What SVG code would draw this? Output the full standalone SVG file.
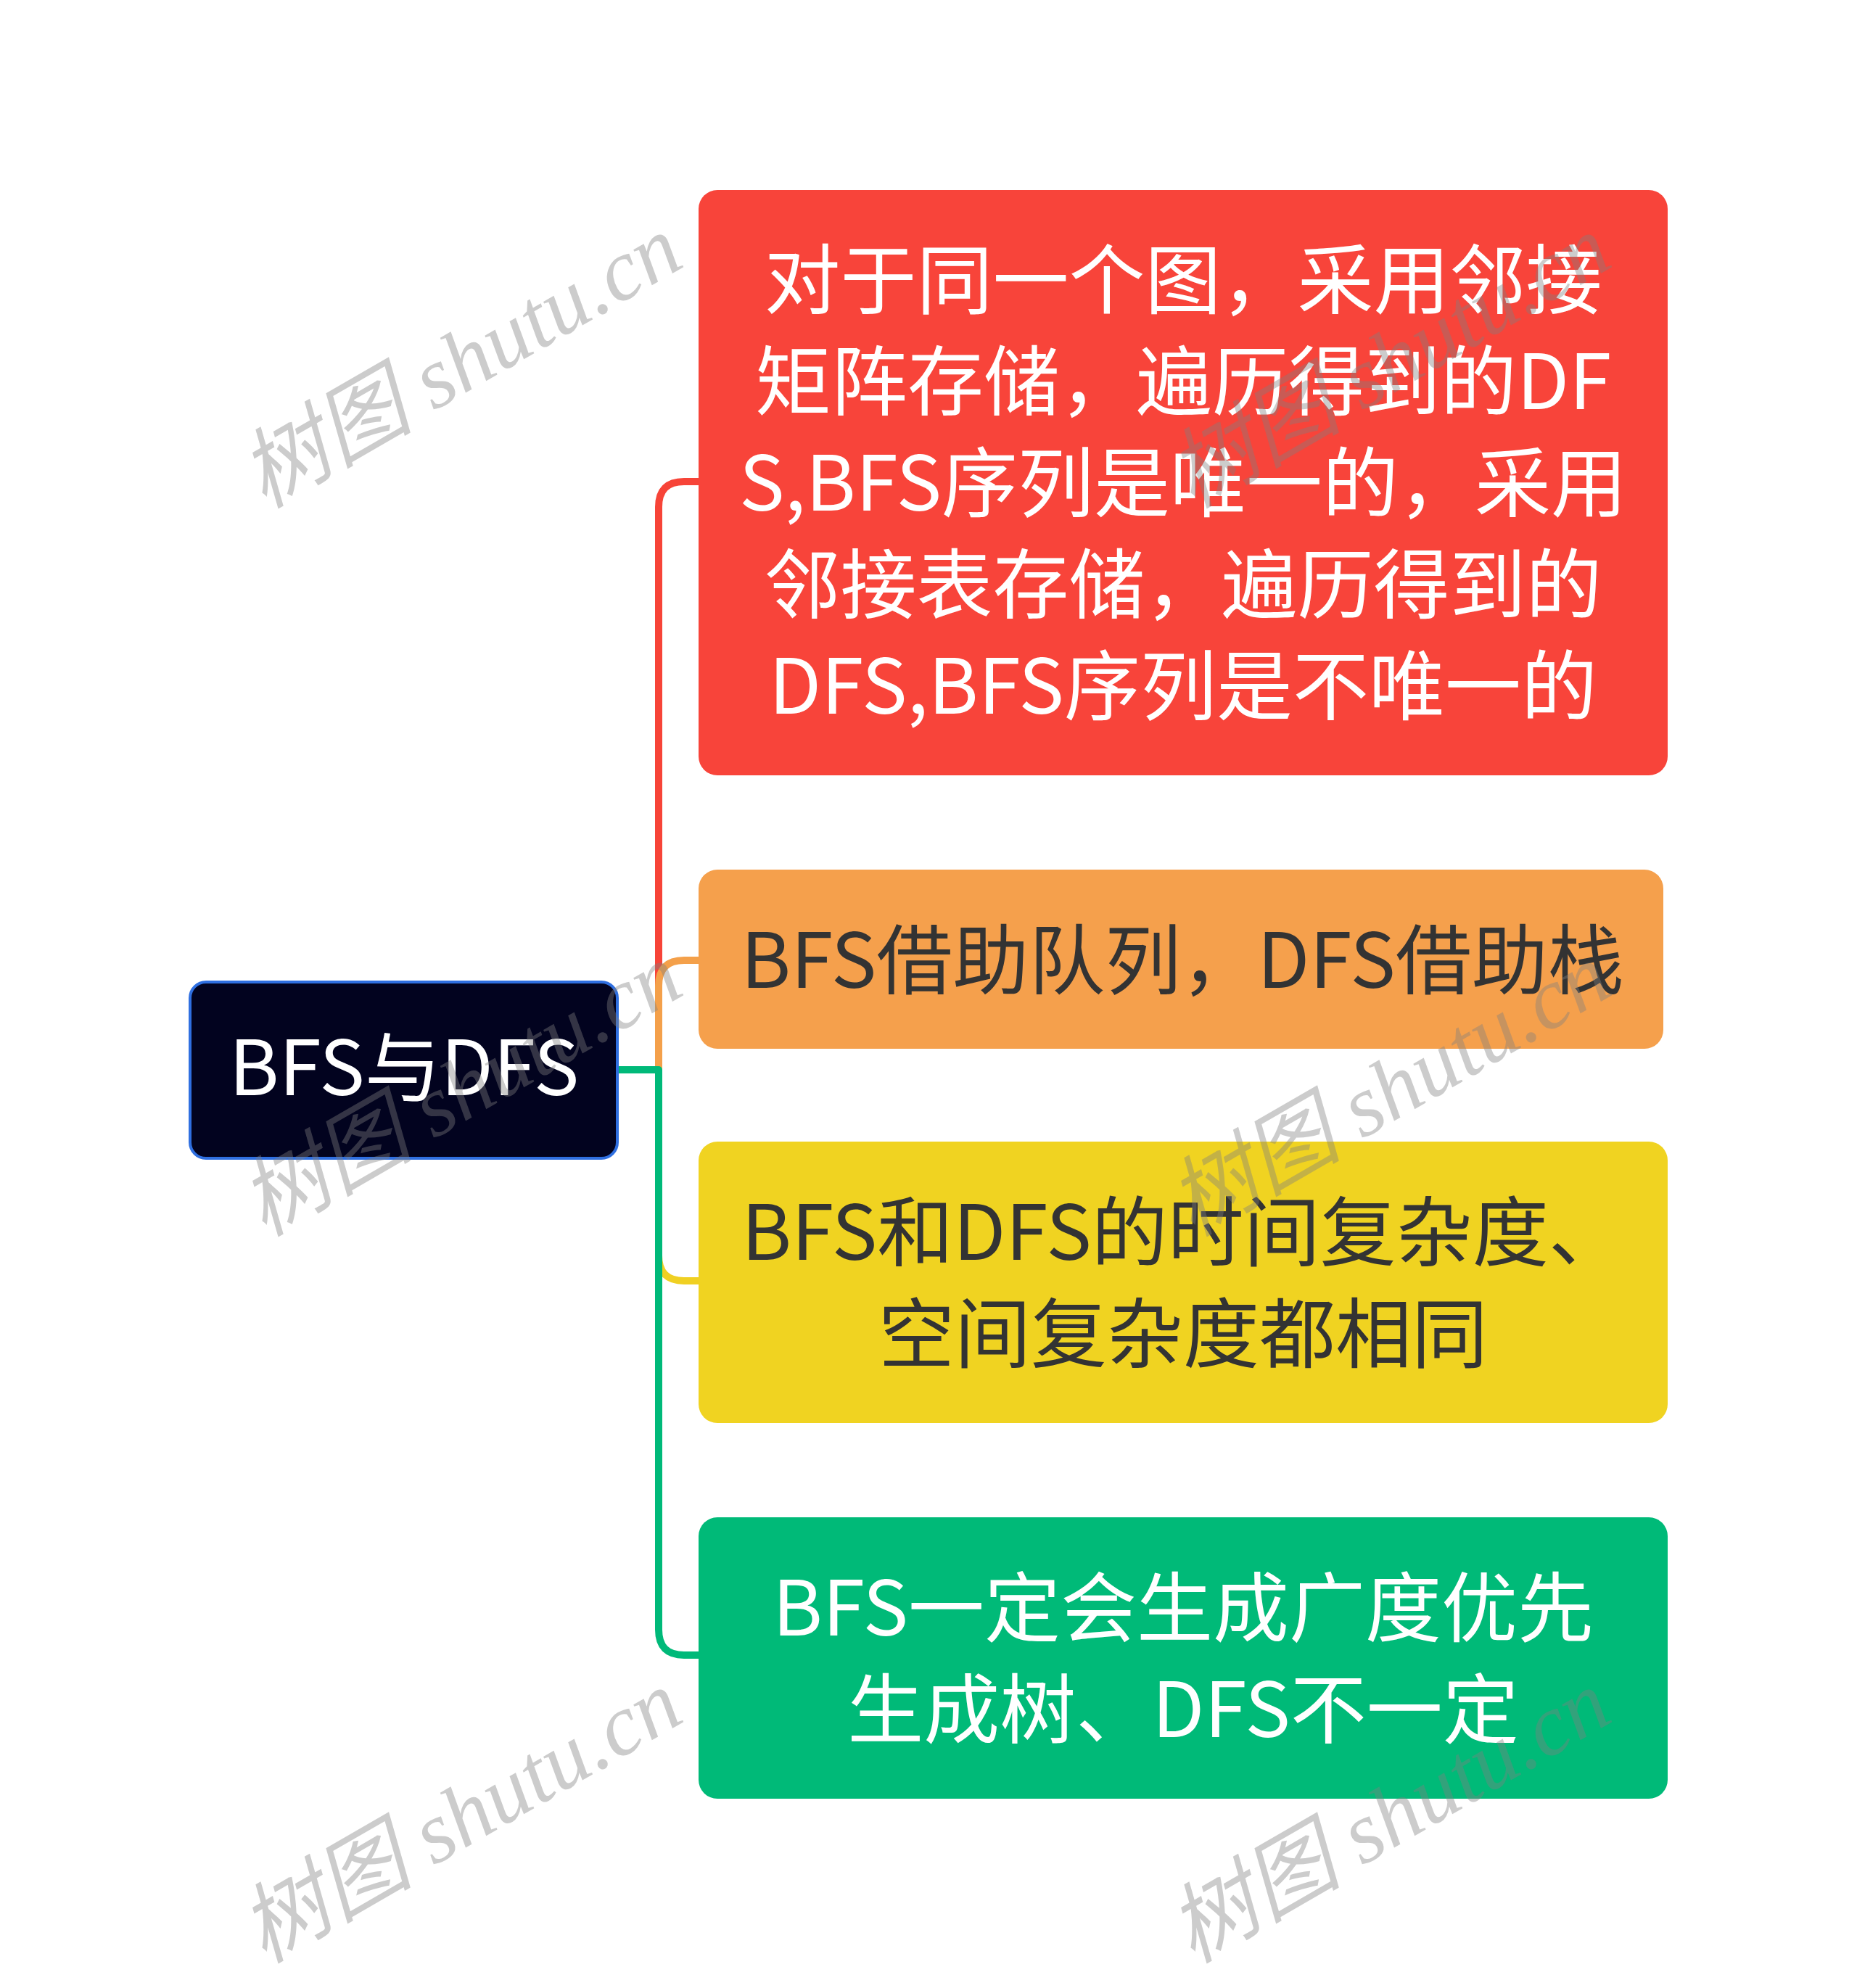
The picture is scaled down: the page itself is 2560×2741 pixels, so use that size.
<svg xmlns="http://www.w3.org/2000/svg" width="2560" height="2741" viewBox="0 0 2560 2741">
<style>
.t{font-family:"Noto Sans CJK SC","Noto Sans",sans-serif;font-size:105px;text-anchor:middle}
.w{fill:#ffffff}
.d{fill:#333333}
.c{fill:none;stroke-width:10;stroke-linejoin:round}
.wm{font-family:"Liberation Serif","Noto Sans CJK SC",serif;font-style:italic;font-size:120px;fill:#808080;fill-opacity:0.4;text-anchor:middle}
</style>
<rect width="2560" height="2741" fill="#ffffff"/>
<g id="connectors">
<path class="c" stroke="#f74438" d="M852,1475 H908 V699 Q908,664 943,664 H963"/>
<path class="c" stroke="#f4a04a" d="M852,1475 H908 V1359 Q908,1324 943,1324 H963"/>
<path class="c" stroke="#f0d022" d="M852,1475 H908 V1731 Q908,1766 943,1766 H963"/>
<path class="c" stroke="#00b979" d="M852,1475 H908 V2247 Q908,2282 943,2282 H963"/>
</g>
<g id="root">
<rect x="262" y="1354" width="589" height="243" rx="22" fill="#02031f" stroke="#2f6fe0" stroke-width="4"/>
<text class="t w" x="557" y="1510">BFS与DFS</text>
</g>
<g id="node1">
<rect x="963" y="262" width="1336" height="807" rx="26" fill="#f8443a"/>
<text class="t w" x="1631" y="424">对于同一个图，采用邻接</text>
<text class="t w" x="1631" y="564">矩阵存储，遍历得到的DF</text>
<text class="t w" x="1631" y="704">S,BFS序列是唯一的，采用</text>
<text class="t w" x="1631" y="844">邻接表存储，遍历得到的</text>
<text class="t w" x="1631" y="984">DFS,BFS序列是不唯一的</text>
</g>
<g id="node2">
<rect x="963" y="1199" width="1330" height="247" rx="26" fill="#f5a04c"/>
<text class="t d" x="1630" y="1362">BFS借助队列，DFS借助栈</text>
</g>
<g id="node3">
<rect x="963" y="1574" width="1336" height="388" rx="26" fill="#f0d321"/>
<text class="t d" x="1631" y="1737">BFS和DFS的时间复杂度、</text>
<text class="t d" x="1631" y="1877">空间复杂度都相同</text>
</g>
<g id="node4">
<rect x="963" y="2092" width="1336" height="388" rx="26" fill="#00ba78"/>
<text class="t w" x="1631" y="2255">BFS一定会生成广度优先</text>
<text class="t w" x="1631" y="2395">生成树、DFS不一定</text>
</g>
<g id="watermarks">
<text class="wm" x="636" y="539" transform="rotate(-30 636 500)">树图 shutu.cn</text>
<text class="wm" x="1916" y="539" transform="rotate(-30 1916 500)">树图 shutu.cn</text>
<text class="wm" x="636" y="1543" transform="rotate(-30 636 1504)">树图 shutu.cn</text>
<text class="wm" x="1916" y="1543" transform="rotate(-30 1916 1504)">树图 shutu.cn</text>
<text class="wm" x="636" y="2545" transform="rotate(-30 636 2506)">树图 shutu.cn</text>
<text class="wm" x="1916" y="2545" transform="rotate(-30 1916 2506)">树图 shutu.cn</text>
</g>
</svg>
